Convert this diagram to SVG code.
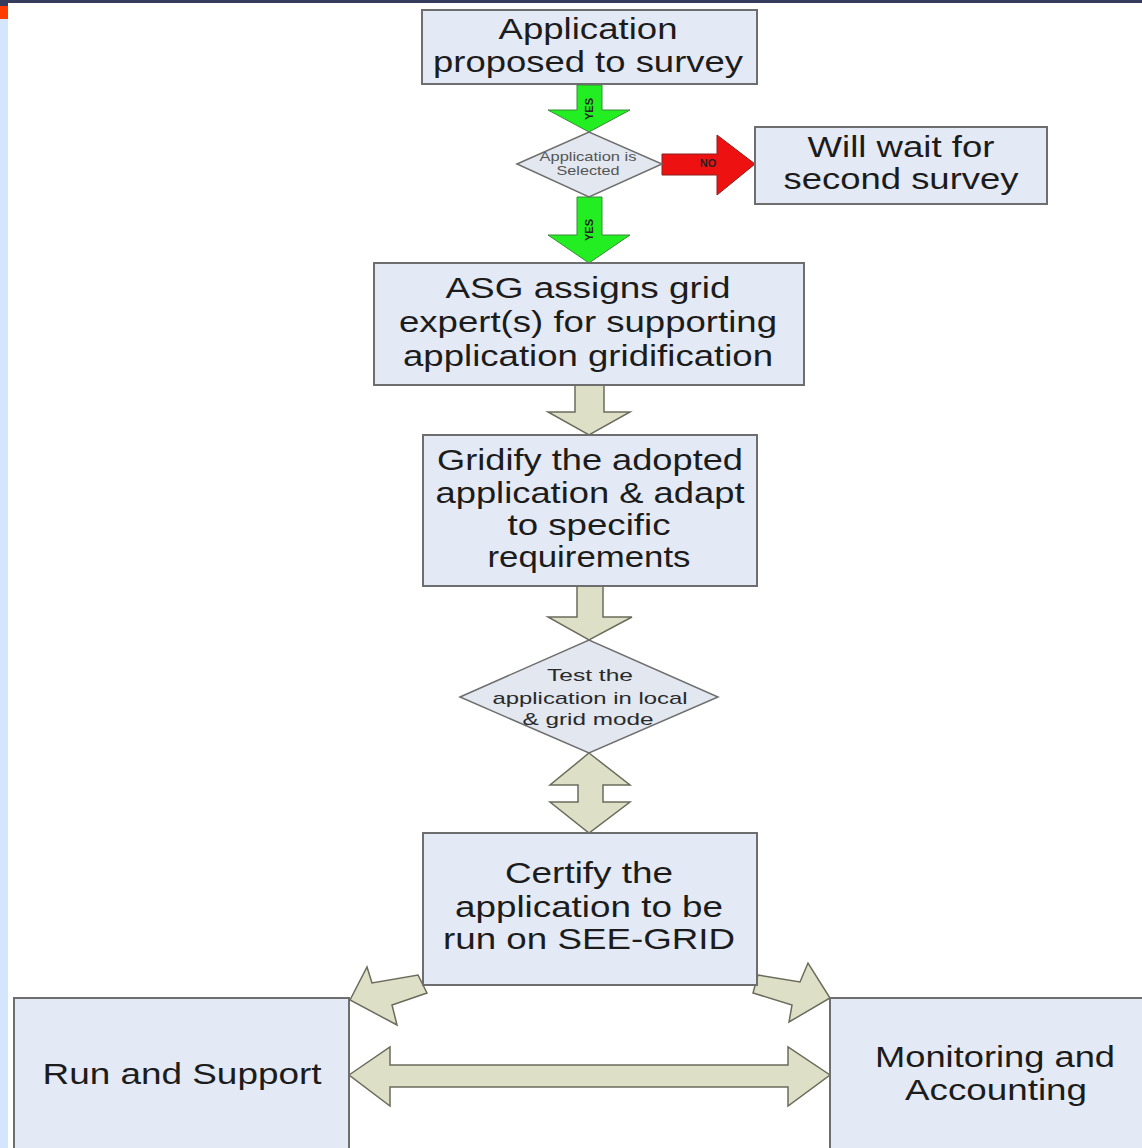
<svg xmlns="http://www.w3.org/2000/svg" width="1142" height="1148" viewBox="0 0 1142 1148">
<style>
.box{fill:#e4eaf5;stroke:#6e6e6e;stroke-width:2}
.dia{fill:#e2e7f0;stroke:#6e6e6e;stroke-width:1.5}
.gray{fill:#dde0c6;stroke:#6b6b5c;stroke-width:1.5;stroke-linejoin:miter}
.green{fill:#22ee22;stroke:#3a8a3a;stroke-width:1}
.red{fill:#ee1111;stroke:#8a2020;stroke-width:1}
.t{font-family:"Liberation Sans",Arial,sans-serif;font-size:29px;fill:#1c1c1c;text-anchor:middle}
.ts{font-family:"Liberation Sans",Arial,sans-serif;font-size:13px;fill:#555;text-anchor:middle}
.tm{font-family:"Liberation Sans",Arial,sans-serif;font-size:17px;fill:#2a2a2a;text-anchor:middle}
.lab{font-family:"Liberation Sans",Arial,sans-serif;font-size:11px;font-weight:bold;fill:#222;text-anchor:middle}
</style>
<rect x="0" y="0" width="1142" height="1148" fill="#ffffff"/>
<rect x="0" y="0" width="1142" height="3" fill="#363d5c"/>
<rect x="0" y="0" width="8" height="1148" fill="#d4e6fb"/>
<rect x="0" y="0" width="8" height="6" fill="#363d5c"/>
<rect x="0" y="6" width="8" height="13" fill="#ff3d00"/>

<g id="connectors">
  <g id="c1">
    <polygon class="green" points="577,85 602,85 602,110 630,110 589,132 548,110 577,110"/>
    <text class="lab" transform="translate(593,109) rotate(-90)">YES</text>
  </g>
  <g id="c2">
    <polygon class="red" points="662,154 717,154 717,135 755,164 717,195 717,175 662,175"/>
    <text class="lab" x="708" y="167">NO</text>
  </g>
  <g id="c3">
    <polygon class="green" points="577,197 602,197 602,235 630,235 589,263 548,235 577,235"/>
    <text class="lab" transform="translate(593,230) rotate(-90)">YES</text>
  </g>
  <polygon id="c4" class="gray" points="575,385 604,385 604,412 630,412 589,435 548,412 575,412"/>
  <polygon id="c5" class="gray" points="577,586 603,586 603,617 632,617 589,640 548,617 577,617"/>
  <polygon id="c6" class="gray" points="589,753 630,785 603,785 603,802 630,802 589,833 550,802 578,802 578,785 550,785"/>
  <polygon id="c7" class="gray" points="350,1000 367,967 372,983 418,975 427,993 392,1005 397,1025"/>
  <polygon id="c8" class="gray" points="758,975 800,982 808,963 830,998 789,1022 792,1005 753,993"/>
  <polygon id="c9" class="gray" points="349,1075 390,1047 390,1065 788,1065 788,1047 830,1075 788,1106 788,1087 390,1087 390,1106"/>
</g>

<g id="n1">
  <rect class="box" x="422" y="10" width="335" height="74"/>
  <text class="t" x="588" y="39" textLength="179" lengthAdjust="spacingAndGlyphs">Application</text>
  <text class="t" x="588" y="72" textLength="310" lengthAdjust="spacingAndGlyphs">proposed to survey</text>
</g>
<g id="n2">
  <polygon class="dia" points="517,164 589,132 662,164 589,197"/>
  <text class="ts" x="588" y="161" textLength="97" lengthAdjust="spacingAndGlyphs">Application is</text>
  <text class="ts" x="588" y="175" textLength="63" lengthAdjust="spacingAndGlyphs">Selected</text>
</g>
<g id="n3">
  <rect class="box" x="755" y="127" width="292" height="77"/>
  <text class="t" x="901" y="157" textLength="187" lengthAdjust="spacingAndGlyphs">Will wait for</text>
  <text class="t" x="901" y="189" textLength="235" lengthAdjust="spacingAndGlyphs">second survey</text>
</g>
<g id="n4">
  <rect class="box" x="374" y="263" width="430" height="122"/>
  <text class="t" x="588" y="298" textLength="285" lengthAdjust="spacingAndGlyphs">ASG assigns grid</text>
  <text class="t" x="588" y="332" textLength="378" lengthAdjust="spacingAndGlyphs">expert(s) for supporting</text>
  <text class="t" x="588" y="366" textLength="370" lengthAdjust="spacingAndGlyphs">application gridification</text>
</g>
<g id="n5">
  <rect class="box" x="423" y="435" width="334" height="151"/>
  <text class="t" x="590" y="470" textLength="306" lengthAdjust="spacingAndGlyphs">Gridify the adopted</text>
  <text class="t" x="590" y="503" textLength="309" lengthAdjust="spacingAndGlyphs">application &amp; adapt</text>
  <text class="t" x="589" y="535" textLength="163" lengthAdjust="spacingAndGlyphs">to specific</text>
  <text class="t" x="589" y="567" textLength="203" lengthAdjust="spacingAndGlyphs">requirements</text>
</g>
<g id="n6">
  <polygon class="dia" points="460,697 589,640 718,697 589,753"/>
  <text class="tm" x="590" y="681" textLength="86" lengthAdjust="spacingAndGlyphs">Test the</text>
  <text class="tm" x="590" y="704" textLength="195" lengthAdjust="spacingAndGlyphs">application in local</text>
  <text class="tm" x="588" y="725" textLength="131" lengthAdjust="spacingAndGlyphs">&amp; grid mode</text>
</g>
<g id="n7">
  <rect class="box" x="423" y="833" width="334" height="152"/>
  <text class="t" x="589" y="883" textLength="168" lengthAdjust="spacingAndGlyphs">Certify the</text>
  <text class="t" x="589" y="917" textLength="268" lengthAdjust="spacingAndGlyphs">application to be</text>
  <text class="t" x="589" y="949" textLength="292" lengthAdjust="spacingAndGlyphs">run on SEE-GRID</text>
</g>
<g id="n8">
  <rect class="box" x="14" y="998" width="335" height="160"/>
  <text class="t" x="182" y="1084" textLength="279" lengthAdjust="spacingAndGlyphs">Run and Support</text>
</g>
<g id="n9">
  <rect class="box" x="830" y="998" width="320" height="160"/>
  <text class="t" x="995" y="1067" textLength="240" lengthAdjust="spacingAndGlyphs">Monitoring and</text>
  <text class="t" x="996" y="1100" textLength="182" lengthAdjust="spacingAndGlyphs">Accounting</text>
</g>
</svg>
